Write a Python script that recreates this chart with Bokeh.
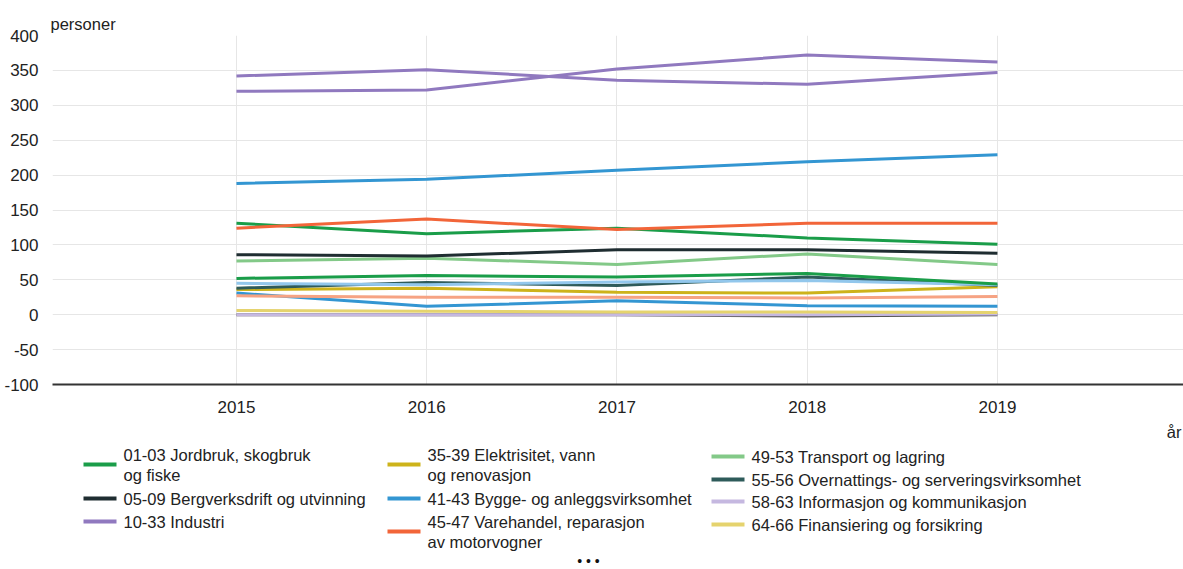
from bokeh.plotting import figure
from bokeh.layouts import column
from bokeh.models import Range1d, FixedTicker, ColumnDataSource
from bokeh.core.properties import value
from bokeh.embed import file_html
from bokeh.resources import INLINE

FONT = "Liberation Sans"

years = [2015, 2016, 2017, 2018, 2019]

# Legend series (visible legend entries)
jordbruk = [131, 116, 124, 110, 101]
bergverk = [86, 84, 93, 93, 88]
industri = [342, 351, 336, 330, 347]
elektrisitet = [36, 38, 32, 31, 40]
bygge = [188, 194, 207, 219, 229]
varehandel = [124, 137, 122, 131, 131]
transport = [77, 81, 72, 87, 72]
overnatting = [38, 46, 42, 54, 42]
informasjon = [0, 0, 0, 0, 1]
finansiering = [6, 5, 4, 4, 3]

# Further series (legend entries truncated in the original)
extra_purple = [320, 322, 352, 372, 362]
extra_green = [52, 56, 54, 59, 44]
extra_lightblue = [45, 43, 47, 49, 43]
extra_salmon = [27, 25, 25, 24, 26]
extra_blue = [31, 12, 20, 13, 12]
extra_grey = [0, 0, 0, -2, 0]

legend_labels = [
    "01-03 Jordbruk, skogbruk\nog fiske",
    "05-09 Bergverksdrift og utvinning",
    "10-33 Industri",
    "35-39 Elektrisitet, vann\nog renovasjon",
    "41-43 Bygge- og anleggsvirksomhet",
    "45-47 Varehandel, reparasjon\nav motorvogner",
    "49-53 Transport og lagring",
    "55-56 Overnattings- og serveringsvirksomhet",
    "58-63 Informasjon og kommunikasjon",
    "64-66 Finansiering og forsikring",
]
y_ticks = [-100, -50, 0, 50, 100, 150, 200, 250, 300, 350, 400]

colors = {
    "jordbruk": "#1a9d49",
    "bergverk": "#1f2d31",
    "industri": "#9079bf",
    "elektrisitet": "#cdb31b",
    "bygge": "#3396d2",
    "varehandel": "#f26539",
    "transport": "#83c988",
    "overnatting": "#2e5b5a",
    "informasjon": "#c5b8e0",
    "finansiering": "#e5d36e",
}

W = 1183
MAIN_H = 415
LEG_H = 154
LEFT = 52

p = figure(width=W, height=MAIN_H, output_backend="svg", toolbar_location=None,
           x_range=Range1d(2014.033, 2019.978), y_range=Range1d(-100, 400),
           min_border_left=LEFT, min_border_right=0, min_border_top=35,
           min_border_bottom=MAIN_H - 386, outline_line_color=None,
           title="personer")
p.title.text_font = FONT
p.title.text_font_size = "16.5px"
p.title.text_font_style = "normal"
p.title.text_color = "#222222"
p.title.align = "left"
p.title.standoff = 5
p.title.offset = -2

p.xaxis.ticker = FixedTicker(ticks=years)
p.yaxis.ticker = FixedTicker(ticks=y_ticks)
p.yaxis.major_label_overrides = {t: str(t) for t in y_ticks}
for ax in (p.xaxis, p.yaxis):
    ax.major_label_text_font = FONT
    ax.major_label_text_font_size = "17px"
    ax.major_label_text_color = "#222222"
    ax.major_tick_line_color = None
    ax.minor_tick_line_color = None
p.xaxis.axis_line_color = "#333333"
p.xaxis.axis_line_width = 2
p.xaxis.major_label_standoff = 10
p.yaxis.axis_line_color = None
p.yaxis.major_label_standoff = 8
p.xgrid.grid_line_color = "#e6e6e6"
p.ygrid.grid_line_color = "#e6e6e6"

LW = 3
series = [
    (extra_grey, "#555555"),
    (informasjon, colors["informasjon"]),
    (finansiering, colors["finansiering"]),
    (extra_blue, colors["bygge"]),
    (extra_salmon, "#f6a383"),
    (elektrisitet, colors["elektrisitet"]),
    (overnatting, colors["overnatting"]),
    (extra_lightblue, "#92c7ec"),
    (extra_green, colors["jordbruk"]),
    (transport, colors["transport"]),
    (bergverk, colors["bergverk"]),
    (jordbruk, colors["jordbruk"]),
    (varehandel, colors["varehandel"]),
    (bygge, colors["bygge"]),
    (extra_purple, colors["industri"]),
    (industri, colors["industri"]),
]
for vals, col in series:
    src = ColumnDataSource(dict(x=years, y=vals))
    p.line("x", "y", source=src, line_color=col, line_width=LW)

# Legend panel below the chart; its frame is aligned with the chart frame,
# so its x range covers page pixels LEFT..W
lg = figure(width=W, height=LEG_H, output_backend="svg", toolbar_location=None,
            x_range=Range1d(LEFT, W), y_range=Range1d(MAIN_H + LEG_H, MAIN_H),
            x_axis_type=None, y_axis_type=None,
            min_border_left=LEFT, min_border_right=0, min_border_top=0,
            min_border_bottom=0, outline_line_color=None)
lg.xgrid.visible = False
lg.ygrid.visible = False

legend_colors = [colors[k] for k in ["jordbruk", "bergverk", "industri",
                                      "elektrisitet", "bygge", "varehandel",
                                      "transport", "overnatting",
                                      "informasjon", "finansiering"]]
col_x = [83, 83, 83, 387, 387, 387, 711, 711, 711, 711]
row_y = [464, 498, 521, 464, 498, 531, 456, 479, 501, 524]

for lab, c, x0, y0 in zip(legend_labels, legend_colors, col_x, row_y):
    lg.segment(x0=[x0], y0=[y0], x1=[x0 + 33], y1=[y0], line_color=c,
               line_width=4)
    lines = lab.split("\n")
    n = len(lines)
    ys = [y0 - 10 * (n - 1) + 20 * i for i in range(n)]
    lg.text(x=[x0 + 40] * n, y=ys, text=lines, text_font=value(FONT),
            text_font_size="16.5px", text_color="#222222",
            text_baseline="middle", text_align="left")

lg.text(x=[1181], y=[431], text=["år"], text_font=value(FONT),
        text_font_size="16.5px", text_color="#222222",
        text_baseline="middle", text_align="right")

# "more entries" indicator below the legend
lg.text(x=[588], y=[560], text=["• • •"], text_font=value(FONT),
        text_font_size="14px", text_color="#111111",
        text_baseline="middle", text_align="center")

layout = column(p, lg, spacing=0)
open("out.html", "w").write(file_html(layout, INLINE))
